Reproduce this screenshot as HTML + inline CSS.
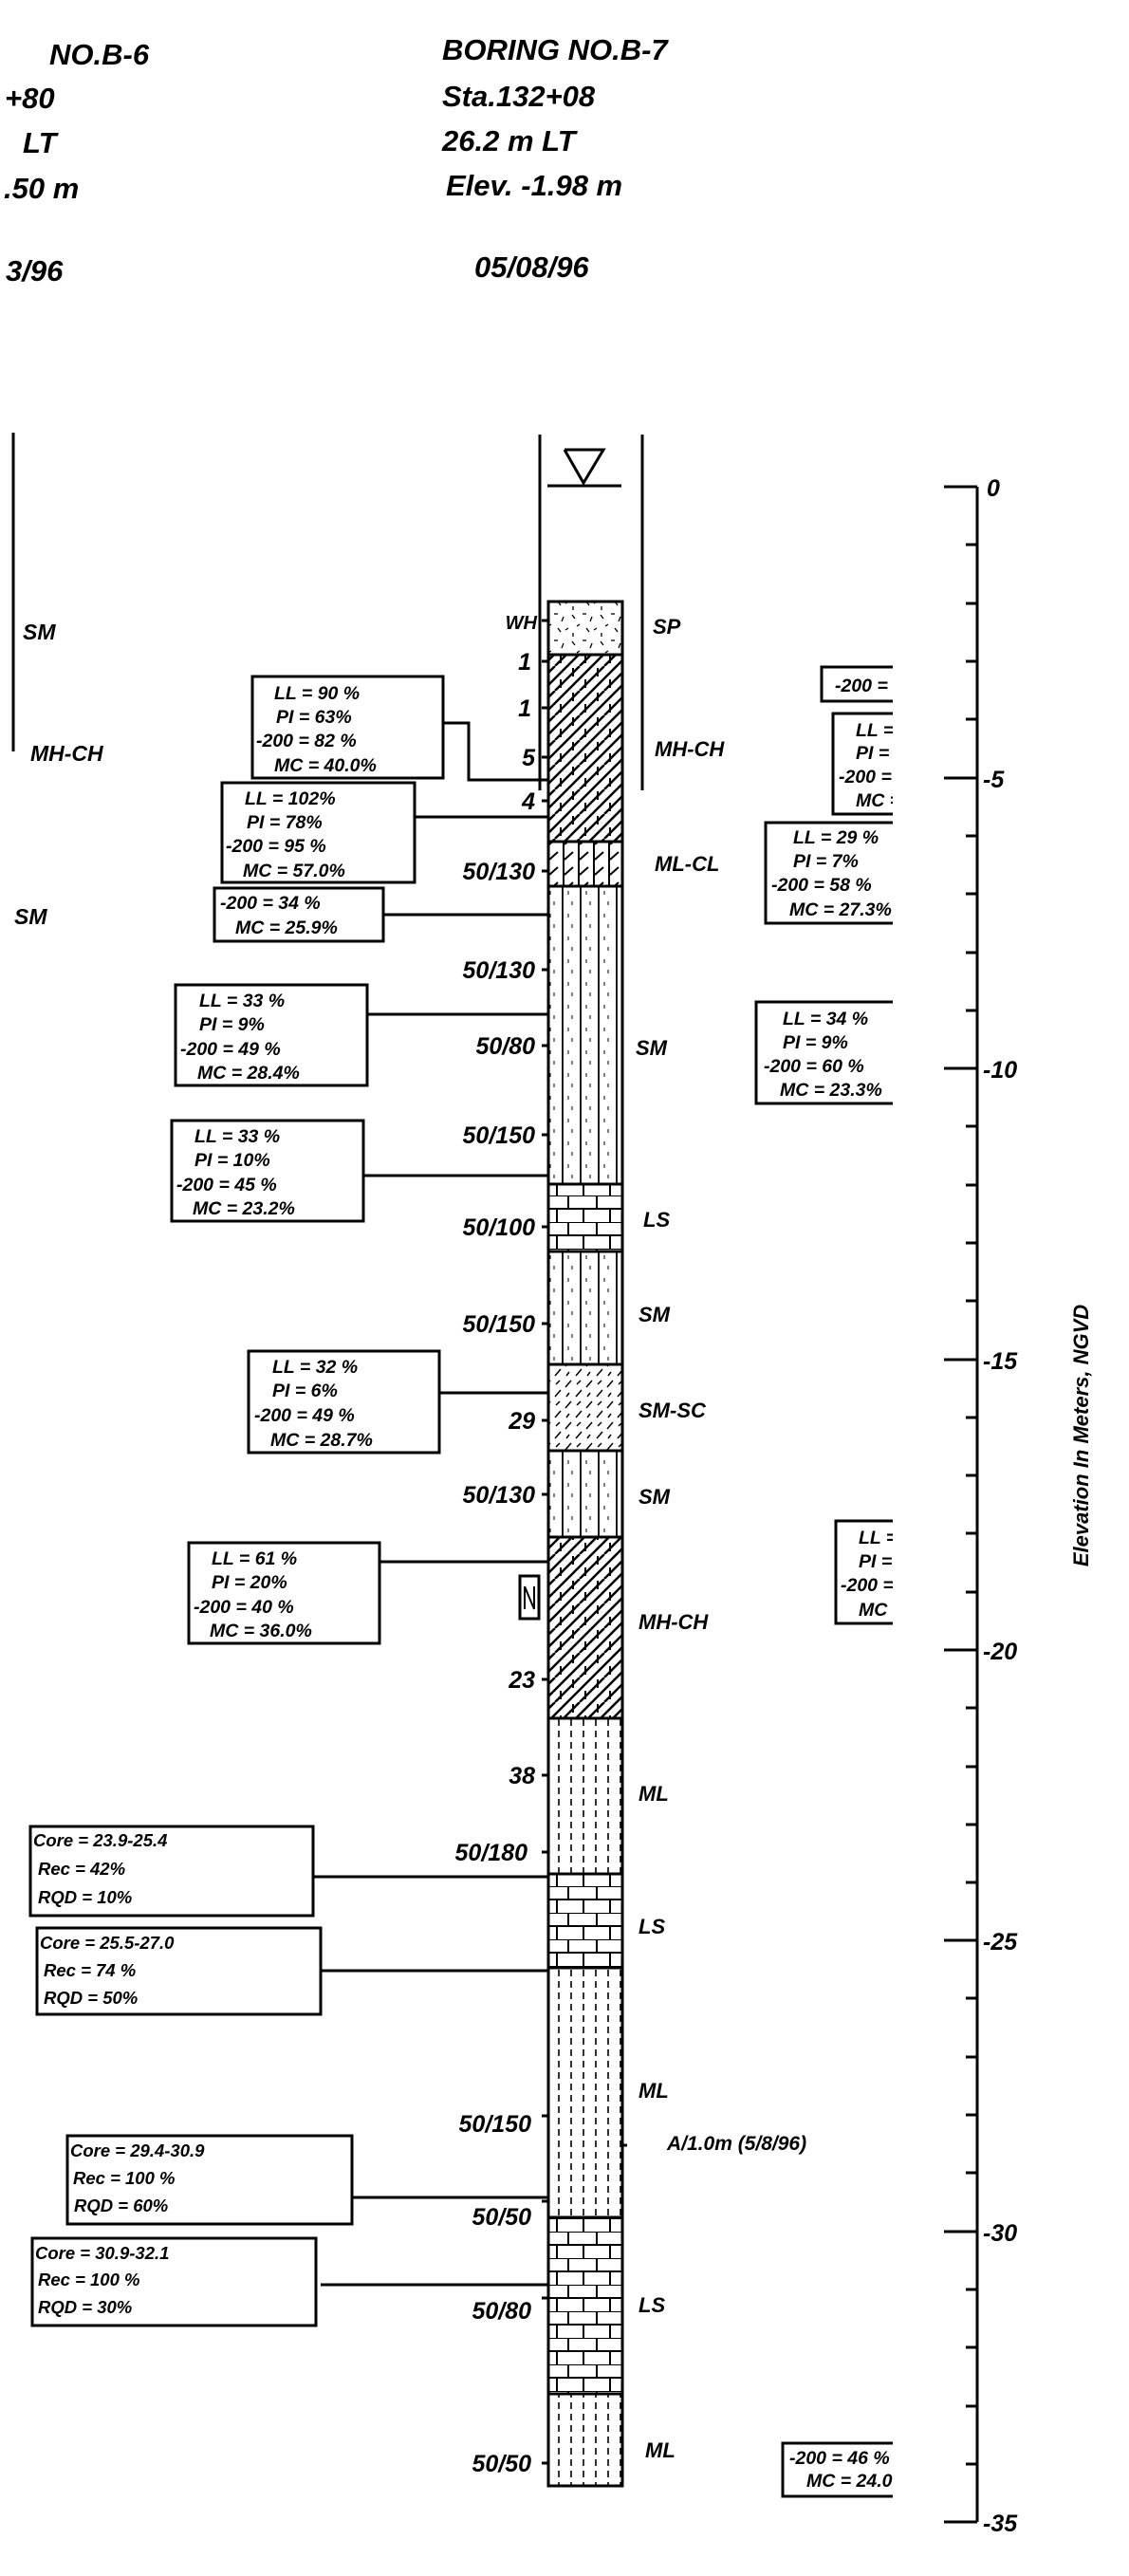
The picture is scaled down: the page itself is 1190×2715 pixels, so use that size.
<!DOCTYPE html>
<html><head><meta charset="utf-8"><style>
html,body{margin:0;padding:0;background:#fff;}
svg{display:block;}
text{font-family:"Liberation Sans",sans-serif;font-style:italic;font-weight:bold;fill:#000;}
.h{font-size:31px;}
.b{font-size:25px;}
.t{font-size:19.5px;}
.c{font-size:18.5px;}
</style></head><body>
<svg width="1190" height="2715" viewBox="0 0 1190 2715" xmlns="http://www.w3.org/2000/svg">
<defs>
<pattern id="sp" width="30" height="28" patternUnits="userSpaceOnUse">
<g stroke="#000" stroke-width="1.3"><line x1="3" y1="4" x2="6" y2="8"/><line x1="14" y1="3" x2="18" y2="3"/><line x1="24" y1="6" x2="22" y2="11"/><line x1="8" y1="16" x2="11" y2="14"/><line x1="18" y1="18" x2="21" y2="22"/><line x1="4" y1="23" x2="4" y2="27"/><line x1="26" y1="20" x2="29" y2="18"/></g></pattern>
<pattern id="mh" width="26" height="26" patternUnits="userSpaceOnUse">
<g stroke="#000" stroke-width="2.5"><line x1="-13" y1="13" x2="13" y2="-13"/><line x1="0" y1="26" x2="26" y2="0"/><line x1="13" y1="39" x2="39" y2="13"/><line x1="-13" y1="26" x2="13" y2="0"/><line x1="13" y1="26" x2="39" y2="0"/></g>
<g stroke="#000" stroke-width="2"><line x1="6" y1="2" x2="6" y2="11"/><line x1="19" y1="14" x2="19" y2="23"/></g></pattern>
<pattern id="mlcl" width="16" height="16" patternUnits="userSpaceOnUse">
<g stroke="#000" stroke-width="2"><line x1="2" y1="0" x2="2" y2="16"/><line x1="3" y1="10" x2="12" y2="2"/></g></pattern>
<pattern id="sm" width="19" height="24" patternUnits="userSpaceOnUse">
<g stroke="#000" stroke-width="1.8"><line x1="4" y1="0" x2="4" y2="24"/></g>
<g stroke="#000" stroke-width="1"><line x1="10" y1="3" x2="10" y2="7"/><line x1="14" y1="14" x2="14" y2="18"/></g></pattern>
<pattern id="ls" width="76" height="28" patternUnits="userSpaceOnUse" x="579">
<g stroke="#000" stroke-width="2" fill="none"><line x1="0" y1="0" x2="76" y2="0"/><line x1="0" y1="14" x2="76" y2="14"/><line x1="20" y1="0" x2="20" y2="14"/><line x1="50" y1="0" x2="50" y2="14"/><line x1="8" y1="14" x2="8" y2="28"/><line x1="36" y1="14" x2="36" y2="28"/><line x1="64" y1="14" x2="64" y2="28"/></g></pattern>
<pattern id="smsc" width="22" height="22" patternUnits="userSpaceOnUse">
<g stroke="#000" stroke-width="1.5"><line x1="2" y1="10" x2="8" y2="3"/><line x1="13" y1="20" x2="19" y2="13"/><line x1="14" y1="7" x2="18" y2="3"/><line x1="3" y1="20" x2="6" y2="16"/></g></pattern>
<pattern id="ml" width="13" height="12" patternUnits="userSpaceOnUse">
<g stroke="#000" stroke-width="1.6"><line x1="4" y1="0" x2="4" y2="7"/></g></pattern>
<clipPath id="rc"><rect x="0" y="0" width="941" height="2715"/></clipPath>
</defs>

<!-- Headers -->
<text class="h" x="52" y="68">NO.B-6</text>
<text class="h" x="5" y="114">+80</text>
<text class="h" x="24" y="161">LT</text>
<text class="h" x="4" y="209">.50 m</text>
<text class="h" x="6" y="296">3/96</text>
<text class="h" x="466" y="63">BORING NO.B-7</text>
<text class="h" x="466" y="112">Sta.132+08</text>
<text class="h" x="466" y="159">26.2 m LT</text>
<text class="h" x="470" y="206">Elev. -1.98 m</text>
<text class="h" x="500" y="292">05/08/96</text>

<!-- B-6 left -->
<line x1="14" y1="456" x2="14" y2="792" stroke="#000" stroke-width="3"/>
<text class="t" x="24" y="674" style="font-size:23px">SM</text>
<text class="t" x="32" y="802" style="font-size:23px">MH-CH</text>
<text class="t" x="15" y="974" style="font-size:23px">SM</text>

<!-- casing lines & water -->
<g stroke="#000" stroke-width="3" fill="none">
<line x1="569" y1="458" x2="569" y2="833"/>
<line x1="677" y1="458" x2="677" y2="833"/>
<polyline points="595,474 636,474 615,509 595,474"/>
<line x1="577" y1="512" x2="655" y2="512"/>
</g>

<!-- column layers -->
<g stroke="#000" stroke-width="3">
<rect x="578" y="634" width="78" height="56" fill="url(#sp)"/>
<rect x="578" y="690" width="78" height="197" fill="url(#mh)"/>
<rect x="578" y="887" width="78" height="47" fill="url(#mlcl)"/>
<rect x="578" y="934" width="78" height="314" fill="url(#sm)"/>
<rect x="578" y="1248" width="78" height="71" fill="url(#ls)"/>
<rect x="578" y="1319" width="78" height="119" fill="url(#sm)"/>
<rect x="578" y="1438" width="78" height="91" fill="url(#smsc)"/>
<rect x="578" y="1529" width="78" height="91" fill="url(#sm)"/>
<rect x="578" y="1620" width="78" height="191" fill="url(#mh)"/>
<rect x="578" y="1811" width="78" height="164" fill="url(#ml)"/>
<rect x="578" y="1975" width="78" height="99" fill="url(#ls)"/>
<rect x="578" y="2074" width="78" height="263" fill="url(#ml)"/>
<rect x="578" y="2337" width="78" height="186" fill="url(#ls)"/>
<rect x="578" y="2523" width="78" height="97" fill="url(#ml)"/>
</g>

<!-- tick marks -->
<g stroke="#000" stroke-width="3">
<line x1="571" y1="654" x2="578" y2="654"/><line x1="571" y1="697" x2="578" y2="697"/>
<line x1="571" y1="746" x2="578" y2="746"/><line x1="571" y1="798" x2="578" y2="798"/>
<line x1="571" y1="844" x2="578" y2="844"/><line x1="571" y1="918" x2="578" y2="918"/>
<line x1="571" y1="1022" x2="578" y2="1022"/><line x1="571" y1="1102" x2="578" y2="1102"/>
<line x1="571" y1="1196" x2="578" y2="1196"/><line x1="571" y1="1293" x2="578" y2="1293"/>
<line x1="571" y1="1395" x2="578" y2="1395"/><line x1="571" y1="1497" x2="578" y2="1497"/>
<line x1="571" y1="1575" x2="578" y2="1575"/><line x1="571" y1="1770" x2="578" y2="1770"/>
<line x1="571" y1="1871" x2="578" y2="1871"/><line x1="571" y1="1952" x2="578" y2="1952"/>
<line x1="571" y1="2230" x2="578" y2="2230"/><line x1="571" y1="2320" x2="578" y2="2320"/>
<line x1="571" y1="2422" x2="578" y2="2422"/><line x1="571" y1="2596" x2="578" y2="2596"/>
<line x1="656" y1="2261" x2="661" y2="2261"/>
</g>

<!-- blow counts -->
<g class="b" text-anchor="end">
<text x="566" y="663" style="font-size:20px">WH</text>
<text x="560" y="706">1</text><text x="560" y="755">1</text>
<text x="564" y="807">5</text><text x="564" y="853">4</text>
<text x="564" y="927">50/130</text><text x="564" y="1031">50/130</text>
<text x="564" y="1111">50/80</text><text x="564" y="1205">50/150</text>
<text x="564" y="1302">50/100</text><text x="564" y="1404">50/150</text>
<text x="564" y="1506">29</text><text x="564" y="1584">50/130</text>
<text x="564" y="1779">23</text><text x="564" y="1880">38</text>
<text x="556" y="1961">50/180</text><text x="560" y="2247">50/150</text>
<text x="560" y="2345">50/50</text><text x="560" y="2444">50/80</text>
<text x="560" y="2605">50/50</text>
</g>

<!-- layer labels -->
<g class="t" style="font-size:22px">
<text x="688" y="668">SP</text><text x="690" y="797">MH-CH</text>
<text x="690" y="918">ML-CL</text><text x="670" y="1112">SM</text>
<text x="678" y="1293">LS</text><text x="673" y="1393">SM</text>
<text x="673" y="1494">SM-SC</text><text x="673" y="1585">SM</text>
<text x="673" y="1717">MH-CH</text><text x="673" y="1898">ML</text>
<text x="673" y="2038">LS</text><text x="673" y="2211">ML</text>
<text x="673" y="2437">LS</text><text x="680" y="2590">ML</text>
<text x="703" y="2266" style="font-size:21px">A/1.0m (5/8/96)</text>
</g>

<!-- N box -->
<rect x="548" y="1661" width="20" height="45" fill="none" stroke="#000" stroke-width="3"/>
<path d="M553 1672 L553 1696 M553 1672 L563 1696 M563 1672 L563 1696" stroke="#000" stroke-width="2" fill="none"/>

<!-- left boxes & connectors -->
<g stroke="#000" stroke-width="3" fill="none">
<rect x="266" y="713" width="201" height="107"/>
<polyline points="467,762 494,762 494,822 577,822"/>
<rect x="234" y="825" width="203" height="105"/><line x1="437" y1="861" x2="577" y2="861"/>
<rect x="226" y="936" width="178" height="56"/><line x1="404" y1="964" x2="577" y2="964"/>
<rect x="185" y="1038" width="202" height="106"/><line x1="387" y1="1069" x2="577" y2="1069"/>
<rect x="181" y="1181" width="202" height="106"/><line x1="383" y1="1239" x2="577" y2="1239"/>
<rect x="262" y="1424" width="201" height="107"/><line x1="463" y1="1468" x2="577" y2="1468"/>
<rect x="199" y="1626" width="201" height="106"/><line x1="400" y1="1646" x2="577" y2="1646"/>
<rect x="32" y="1925" width="298" height="94"/><line x1="330" y1="1978" x2="577" y2="1978"/>
<rect x="39" y="2032" width="299" height="91"/><line x1="338" y1="2077" x2="577" y2="2077"/>
<rect x="71" y="2251" width="300" height="93"/><line x1="371" y1="2316" x2="577" y2="2316"/>
<rect x="34" y="2359" width="299" height="92"/><line x1="338" y1="2408" x2="577" y2="2408"/>
</g>
<g class="t">
<text x="289" y="737">LL = 90 %</text><text x="291" y="762">PI = 63%</text><text x="270" y="787">-200 = 82 %</text><text x="289" y="813">MC = 40.0%</text>
<text x="258" y="848">LL = 102%</text><text x="260" y="873">PI = 78%</text><text x="238" y="898">-200 = 95 %</text><text x="256" y="924">MC = 57.0%</text>
<text x="232" y="958">-200 = 34 %</text><text x="248" y="984">MC = 25.9%</text>
<text x="210" y="1061">LL = 33 %</text><text x="210" y="1086">PI = 9%</text><text x="190" y="1112">-200 = 49 %</text><text x="208" y="1137">MC = 28.4%</text>
<text x="205" y="1204">LL = 33 %</text><text x="205" y="1229">PI = 10%</text><text x="186" y="1255">-200 = 45 %</text><text x="203" y="1280">MC = 23.2%</text>
<text x="287" y="1447">LL = 32 %</text><text x="287" y="1472">PI = 6%</text><text x="268" y="1498">-200 = 49 %</text><text x="285" y="1524">MC = 28.7%</text>
<text x="223" y="1649">LL = 61 %</text><text x="223" y="1674">PI = 20%</text><text x="204" y="1700">-200 = 40 %</text><text x="221" y="1725">MC = 36.0%</text>
</g>
<g class="c">
<text x="35" y="1946">Core = 23.9-25.4</text><text x="40" y="1976">Rec  = 42%</text><text x="40" y="2006">RQD  = 10%</text>
<text x="42" y="2054">Core = 25.5-27.0</text><text x="46" y="2083">Rec  = 74 %</text><text x="46" y="2112">RQD  = 50%</text>
<text x="74" y="2273">Core = 29.4-30.9</text><text x="77" y="2302">Rec  = 100 %</text><text x="78" y="2331">RQD  = 60%</text>
<text x="37" y="2381">Core = 30.9-32.1</text><text x="40" y="2409">Rec  = 100 %</text><text x="40" y="2438">RQD  = 30%</text>
</g>

<!-- right clipped boxes -->
<g clip-path="url(#rc)">
<g stroke="#000" stroke-width="3" fill="none">
<rect x="866" y="703" width="90" height="36"/>
<rect x="878" y="752" width="90" height="106"/>
<rect x="807" y="867" width="150" height="106"/>
<rect x="797" y="1056" width="160" height="107"/>
<rect x="881" y="1603" width="90" height="108"/>
<rect x="825" y="2575" width="130" height="56"/>
</g>
<g class="t">
<text x="880" y="729">-200 = 4</text>
<text x="902" y="776">LL = 4</text><text x="902" y="800">PI = 1</text><text x="884" y="825">-200 = 7</text><text x="902" y="850">MC = 3</text>
<text x="836" y="889">LL = 29 %</text><text x="836" y="914">PI = 7%</text><text x="813" y="939">-200 = 58 %</text><text x="832" y="965">MC = 27.3%</text>
<text x="825" y="1080">LL = 34 %</text><text x="825" y="1105">PI = 9%</text><text x="805" y="1130">-200 = 60 %</text><text x="822" y="1155">MC = 23.3%</text>
<text x="905" y="1627">LL = 4</text><text x="905" y="1652">PI = 1</text><text x="886" y="1677">-200 = 7</text><text x="905" y="1703">MC = 3</text>
<text x="832" y="2597">-200 = 46 %</text><text x="850" y="2621">MC = 24.0%</text>
</g>
</g>

<!-- elevation axis -->
<g stroke="#000" stroke-width="3">
<line x1="1030" y1="513" x2="1030" y2="2658"/>
<line x1="995" y1="513" x2="1030" y2="513"/>
<line x1="995" y1="820" x2="1030" y2="820"/>
<line x1="995" y1="1126" x2="1030" y2="1126"/>
<line x1="995" y1="1433" x2="1030" y2="1433"/>
<line x1="995" y1="1739" x2="1030" y2="1739"/>
<line x1="995" y1="2045" x2="1030" y2="2045"/>
<line x1="995" y1="2352" x2="1030" y2="2352"/>
<line x1="995" y1="2658" x2="1030" y2="2658"/>
<line x1="1018" y1="574" x2="1030" y2="574"/><line x1="1018" y1="636" x2="1030" y2="636"/><line x1="1018" y1="697" x2="1030" y2="697"/><line x1="1018" y1="758" x2="1030" y2="758"/>
<line x1="1018" y1="881" x2="1030" y2="881"/><line x1="1018" y1="942" x2="1030" y2="942"/><line x1="1018" y1="1004" x2="1030" y2="1004"/><line x1="1018" y1="1065" x2="1030" y2="1065"/>
<line x1="1018" y1="1187" x2="1030" y2="1187"/><line x1="1018" y1="1249" x2="1030" y2="1249"/><line x1="1018" y1="1310" x2="1030" y2="1310"/><line x1="1018" y1="1371" x2="1030" y2="1371"/>
<line x1="1018" y1="1494" x2="1030" y2="1494"/><line x1="1018" y1="1555" x2="1030" y2="1555"/><line x1="1018" y1="1616" x2="1030" y2="1616"/><line x1="1018" y1="1678" x2="1030" y2="1678"/>
<line x1="1018" y1="1800" x2="1030" y2="1800"/><line x1="1018" y1="1862" x2="1030" y2="1862"/><line x1="1018" y1="1923" x2="1030" y2="1923"/><line x1="1018" y1="1984" x2="1030" y2="1984"/>
<line x1="1018" y1="2106" x2="1030" y2="2106"/><line x1="1018" y1="2168" x2="1030" y2="2168"/><line x1="1018" y1="2229" x2="1030" y2="2229"/><line x1="1018" y1="2290" x2="1030" y2="2290"/>
<line x1="1018" y1="2413" x2="1030" y2="2413"/><line x1="1018" y1="2474" x2="1030" y2="2474"/><line x1="1018" y1="2536" x2="1030" y2="2536"/><line x1="1018" y1="2597" x2="1030" y2="2597"/>
</g>
<g class="b">
<text x="1040" y="523">0</text>
<text x="1036" y="830">-5</text>
<text x="1036" y="1136">-10</text>
<text x="1036" y="1443">-15</text>
<text x="1036" y="1749">-20</text>
<text x="1036" y="2055">-25</text>
<text x="1036" y="2362">-30</text>
<text x="1036" y="2668">-35</text>
</g>
<text x="0" y="0" style="font-size:22px" text-anchor="middle" transform="translate(1147,1513) rotate(-90)">Elevation In Meters, NGVD</text>
</svg>
</body></html>
